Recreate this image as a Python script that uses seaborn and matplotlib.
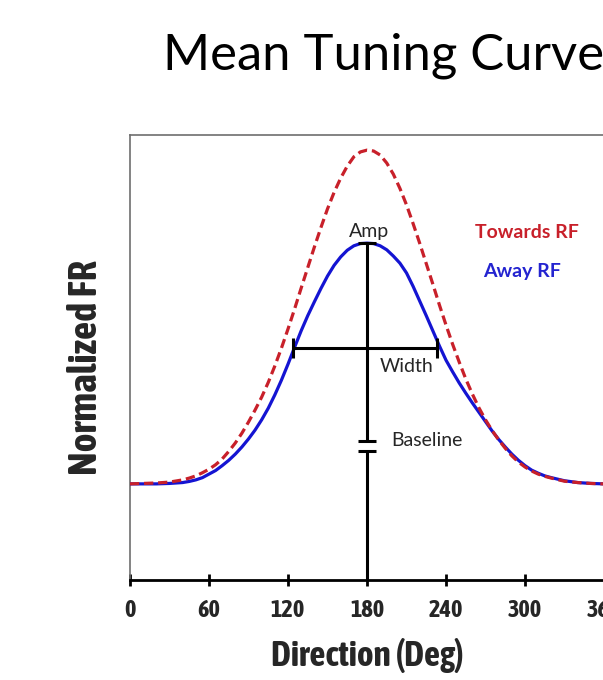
import numpy as np
import pandas as pd
import matplotlib
matplotlib.use("Agg")
import matplotlib.pyplot as plt
import matplotlib.font_manager as fm
import matplotlib.patheffects as pe
import seaborn as sns

# ---- data ----
direction = [0, 10, 20, 30,
             40, 45, 50, 55, 60, 65, 70, 75, 80, 85, 90, 95, 100, 105, 110, 115, 120, 125, 130, 135,
             140, 145, 150, 155, 160, 165, 170, 175, 180, 185, 190, 195, 200, 205, 210, 215, 220, 225,
             230, 235, 240, 245, 250, 255, 260, 265, 270, 275, 280, 285, 290, 295, 300, 305, 310, 315, 320,
             330, 340, 350, 360]
away_rf = [0.216, 0.216, 0.216, 0.217,
           0.219, 0.2215, 0.225, 0.230, 0.238, 0.246, 0.257, 0.269, 0.283, 0.299, 0.317, 0.337, 0.360,
           0.386, 0.416, 0.449, 0.485, 0.523, 0.560, 0.594,
           0.625, 0.655, 0.683, 0.707, 0.726, 0.741, 0.751, 0.756, 0.757, 0.756, 0.751, 0.742, 0.728,
           0.712, 0.690, 0.660, 0.627, 0.594,
           0.560, 0.526, 0.494, 0.468, 0.443, 0.420, 0.398, 0.377, 0.356, 0.335, 0.316, 0.299, 0.283,
           0.269, 0.257, 0.247, 0.240, 0.234, 0.230,
           0.223, 0.219, 0.217, 0.216]
towards_rf = [0.216, 0.217, 0.218, 0.220,
              0.225, 0.229, 0.234, 0.241, 0.249, 0.259, 0.272, 0.289, 0.308, 0.330, 0.355, 0.382, 0.411,
              0.444, 0.481, 0.521, 0.564, 0.609, 0.656, 0.702,
              0.748, 0.792, 0.834, 0.871, 0.903, 0.930, 0.951, 0.962, 0.966, 0.964, 0.955, 0.937, 0.912,
              0.880, 0.843, 0.801, 0.757, 0.711,
              0.665, 0.618, 0.573, 0.530, 0.490, 0.452, 0.418, 0.387, 0.360, 0.336, 0.315, 0.296, 0.279,
              0.265, 0.254, 0.245, 0.238, 0.233, 0.229,
              0.222, 0.219, 0.217, 0.216]
x_ticks = [0, 60, 120, 180, 240, 300, 360]

# annotation values
amp_x = 180
amp_top = 0.757
width_level = 0.521
width_left, width_right = 124, 233
break_hi, break_lo = 0.312, 0.290

sns.set_theme(style="white")
plt.rcParams["font.family"] = ["Lato", "DejaVu Sans"]


def wnum(w):
    if isinstance(w, (int, float)):
        return w
    return fm.weight_dict.get(str(w), 400)


def pick_narrow():
    fl = [f for f in fm.fontManager.ttflist if "Mono" not in f.name and "Serif" not in f.name]
    bold = {f.name for f in fl if wnum(f.weight) >= 600}
    reg = {f.name for f in fl}
    for n in ["Liberation Sans Narrow", "Arial Narrow"]:
        if n in bold:
            return n, "normal", 1.0, False
    for f in fl:
        if ("Narrow" in f.name or "Condensed" in f.name) and f.name in bold:
            return f.name, "normal", 1.06, False
    for pref, sc in [("Roboto", 0.92), ("Open Sans", 0.88), ("Noto Sans", 0.88), ("DejaVu Sans", 0.8)]:
        for f in fl:
            if f.name == pref and str(f.stretch) in ("condensed", "semi-condensed", "extra-condensed") \
                    and wnum(f.weight) >= 600:
                return pref, str(f.stretch), sc, False
    for n in ["Liberation Sans Narrow", "Arial Narrow"]:
        if n in reg:
            return n, "normal", 1.0, True
    for f in fl:
        if "Narrow" in f.name or "Condensed" in f.name:
            return f.name, "normal", 0.95, True
    return "Liberation Sans", "normal", 0.82, False


nfam, nstretch, nscale, fake = pick_narrow()
nkw = dict(fontfamily=[nfam, "DejaVu Sans"], fontstretch=nstretch, fontweight="bold")
if fake:
    nkw["path_effects"] = [pe.withStroke(linewidth=1.1, foreground="black")]

W, H = 603, 680
fig = plt.figure(figsize=(W / 100, H / 100), dpi=100)
ax = fig.add_axes([130 / W, (H - 580) / H, 474 / W, 445 / H])

df = pd.DataFrame({"Direction": direction * 2,
                   "FR": towards_rf + away_rf,
                   "Cond": ["Towards RF"] * len(direction) + ["Away RF"] * len(direction)})

sns.lineplot(data=df[df.Cond == "Away RF"], x="Direction", y="FR", color="#1414d2",
             linewidth=2.3, ax=ax, legend=False, zorder=3)
sns.lineplot(data=df[df.Cond == "Towards RF"], x="Direction", y="FR", color="#c8202a",
             linewidth=2.3, ax=ax, legend=False, zorder=4)
ax.lines[-1].set_dashes([2.9, 1.5])

ax.set_xlim(0, 360)
ax.set_ylim(0, 1)
ax.set_xticks(x_ticks)
ax.set_yticks([])
ax.set_xticklabels([str(t) for t in x_ticks], fontsize=16.5 * nscale, **nkw)
ax.tick_params(axis="x", direction="inout", length=8, width=2, color="black", pad=10, bottom=True)
ax.set_xlabel("Direction (Deg)", fontsize=24 * nscale, labelpad=11, **nkw)
ax.set_ylabel("Normalized FR", fontsize=27.2 * nscale, labelpad=18, **nkw)
ax.yaxis.label.set_y(0.478)

for s in ["left", "top", "right"]:
    ax.spines[s].set_color("#6e6e6e")
    ax.spines[s].set_linewidth(1.2)
ax.spines["bottom"].set_color("black")
ax.spines["bottom"].set_linewidth(2)

# annotation: amp line with break
lk = dict(color="black", lw=2.2, zorder=5, solid_capstyle="butt")
ax.plot([amp_x, amp_x], [amp_top, break_hi], **lk)
ax.plot([amp_x, amp_x], [break_lo, 0], **lk)
ax.plot([amp_x - 7, amp_x + 7], [amp_top, amp_top], **lk)
ax.plot([amp_x - 6.5, amp_x + 6.5], [break_hi, break_hi], **lk)
ax.plot([amp_x - 6.5, amp_x + 6.5], [break_lo, break_lo], **lk)
# width bar
ax.plot([width_left, width_right], [width_level, width_level], **lk)
ax.plot([width_left, width_left], [width_level - 0.022, width_level + 0.022], **lk)
ax.plot([width_right, width_right], [width_level - 0.022, width_level + 0.022], **lk)


def ft(x, y, s, **kw):
    fig.text(x / W, 1 - y / H, s, **kw)


ft(369, 231, "Amp", ha="center", va="center", fontsize=14, color="#262626")
ft(407, 366, "Width", ha="center", va="center", fontsize=14, color="#262626")
ft(391, 440, "Baseline", ha="left", va="center", fontsize=14, color="#262626")
ft(475, 232, "Towards RF", ha="left", va="center", fontsize=14, fontweight="bold", color="#c8202a")
ft(483, 272, "Away RF", ha="left", va="center", fontsize=14, fontweight="bold", color="#2424d0")
ft(163, 56, "Mean Tuning Curves", ha="left", va="center", fontsize=36.5, color="black")

fig.savefig("out.png", dpi=100)
